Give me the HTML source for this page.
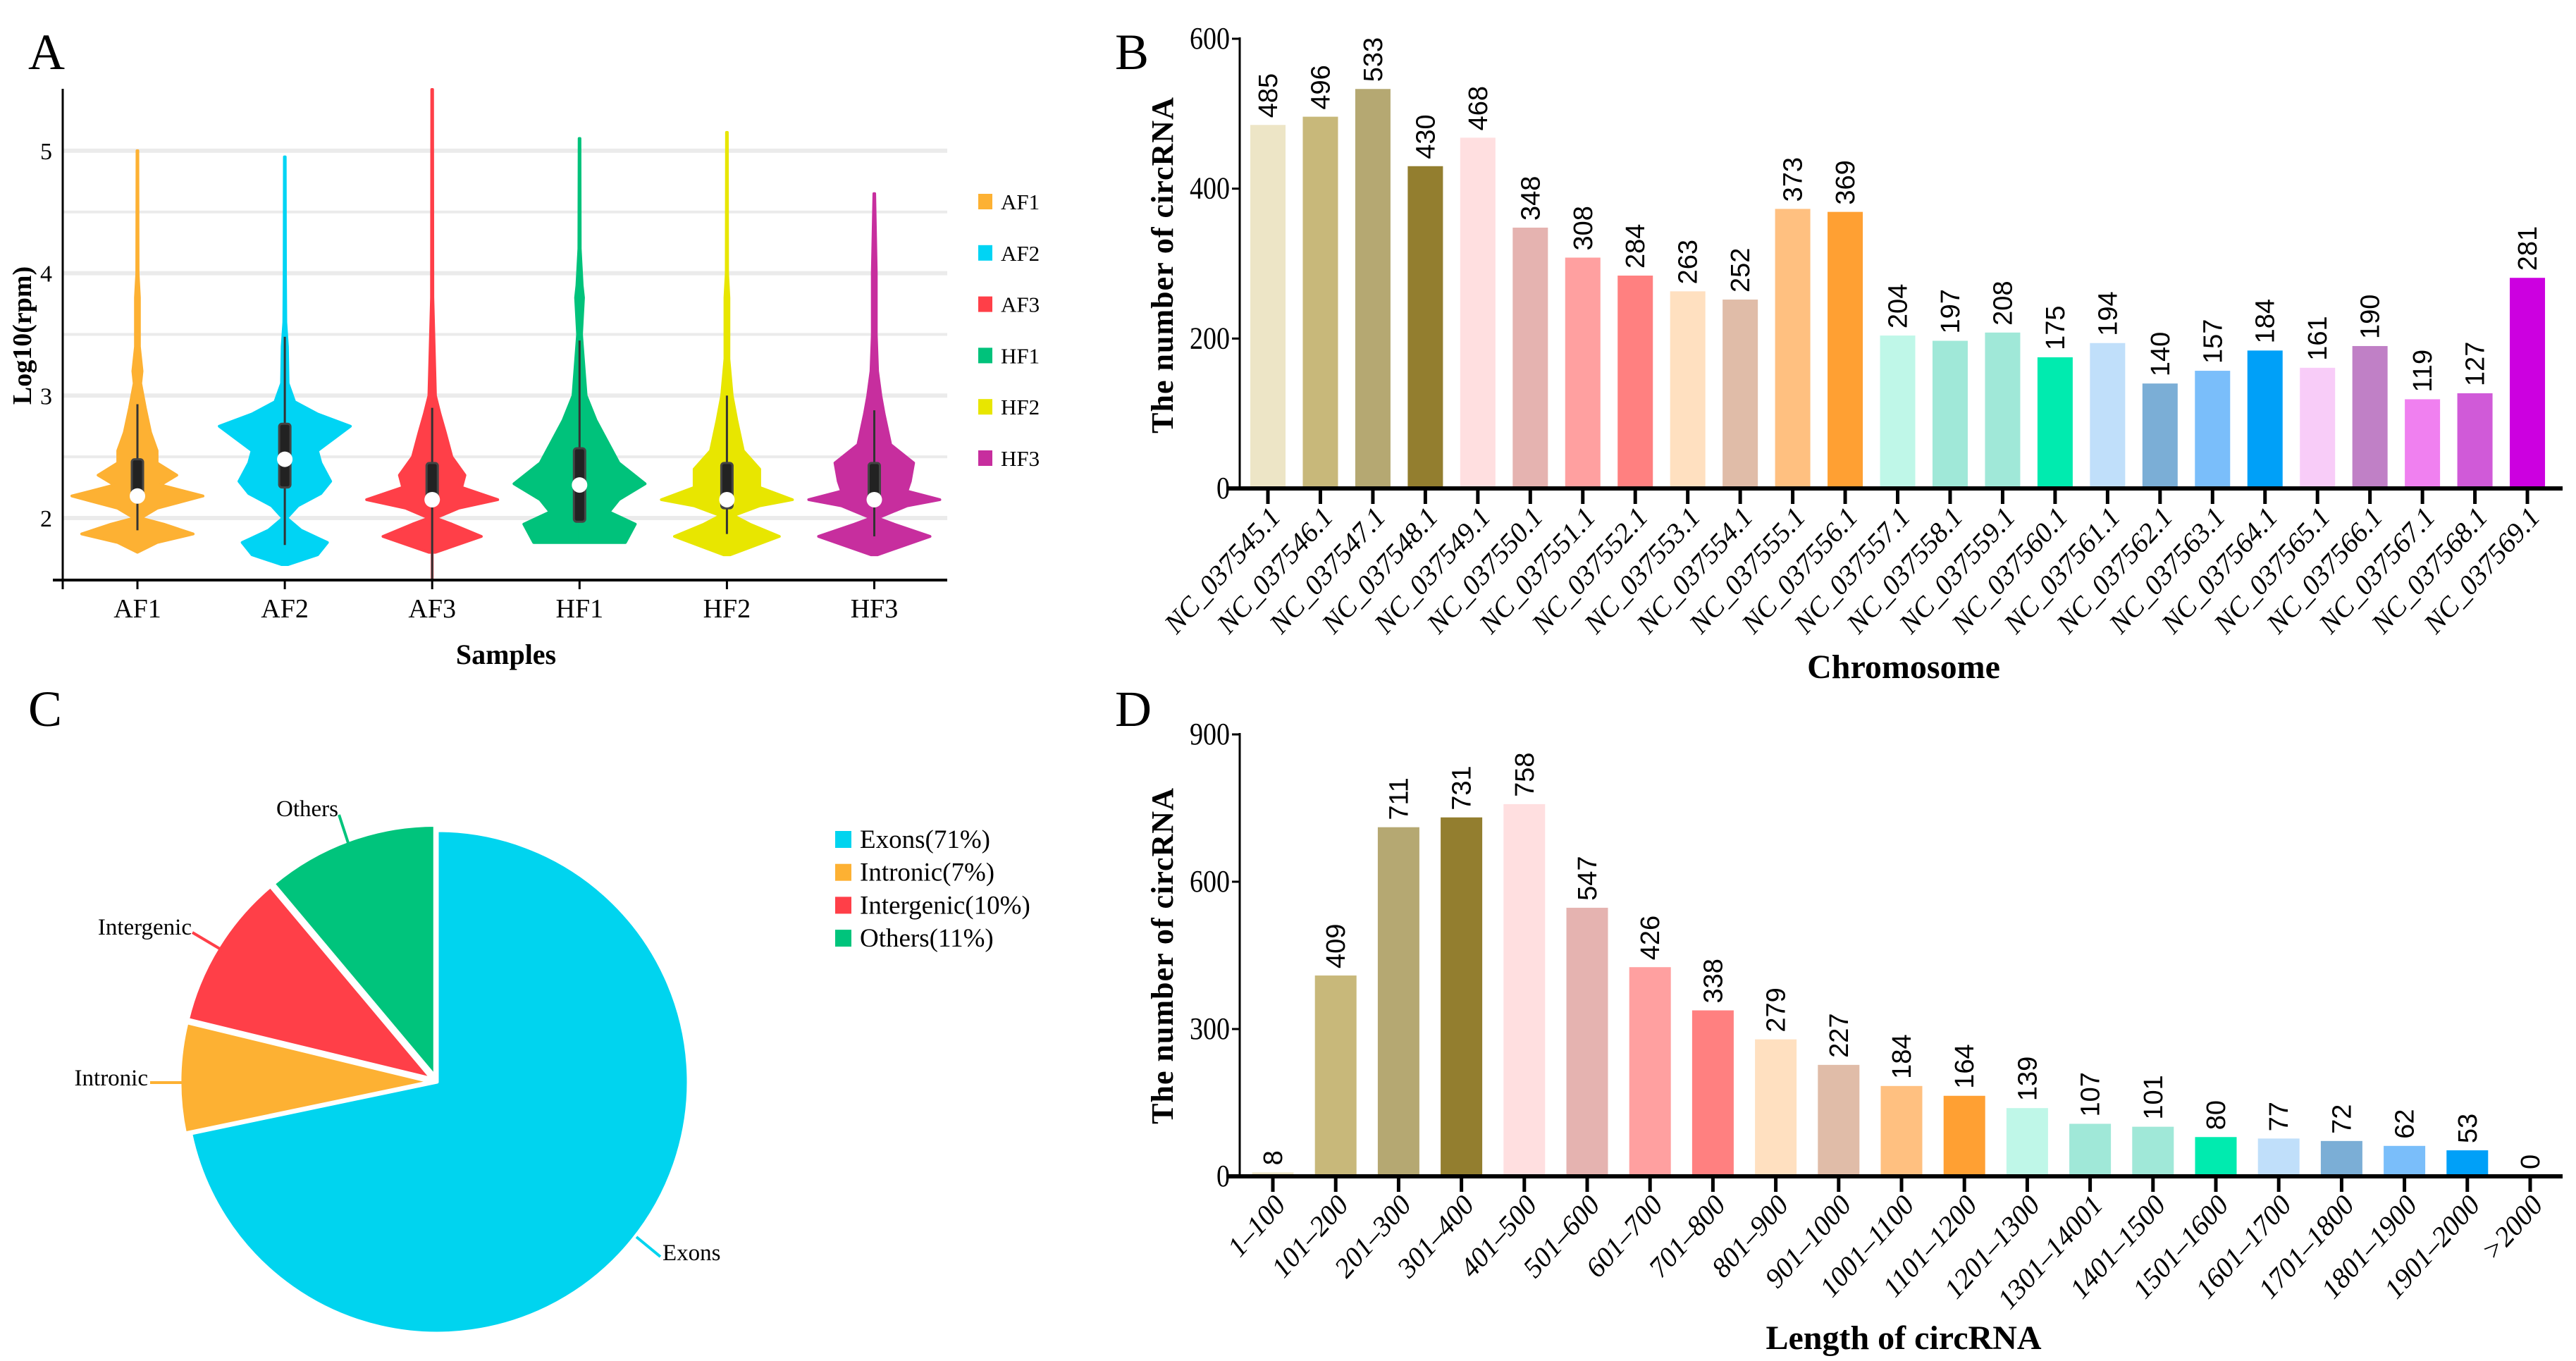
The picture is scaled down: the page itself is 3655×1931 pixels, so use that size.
<!DOCTYPE html>
<html><head><meta charset="utf-8">
<style>
html,body{margin:0;padding:0;background:#fff;}
svg{display:block;}
text{font-family:"Liberation Serif",serif;}
.sans{font-family:"Liberation Sans",sans-serif;}
</style></head>
<body>
<svg id="fig" width="3655" height="1931" viewBox="0 0 3655 1931" xmlns="http://www.w3.org/2000/svg">
<rect width="3655" height="1931" fill="#fff"/>
<text x="40" y="98" font-size="72">A</text>
<text x="1582" y="98" font-size="72">B</text>
<text x="40" y="1030" font-size="72">C</text>
<text x="1582" y="1030" font-size="72">D</text>
<g id="A"></g>
<g id="B"></g>
<g id="C"></g>
<g id="D"></g>
</svg>
<script>
// ---------- Panel A data ----------
const violinSamples = ["AF1","AF2","AF3","HF1","HF2","HF3"];
const violinColors = ["#FDB133","#00D4F4","#FF3F48","#00C27B","#E8E600","#C72E9E"];
const yTicksA = [2,3,4,5];
const profileAF1 = [[1.72,0],[1.8,0.3],[1.87,0.85],[1.95,0.4],[2.0,0.05],[2.08,0.3],[2.18,1.0],[2.27,0.35],[2.35,0.6],[2.45,0.3],[2.55,0.3],[2.7,0.2],[2.9,0.12],[3.1,0.05],[3.2,0.07],[3.4,0.03],[3.8,0.03],[4.0,0.01],[5.0,0.006]];
const profileAF2 = [[1.62,0.05],[1.7,0.5],[1.8,0.65],[1.9,0.25],[2.0,0.03],[2.1,0.2],[2.2,0.55],[2.3,0.7],[2.45,0.55],[2.55,0.5],[2.65,0.75],[2.75,1.0],[2.85,0.5],[2.95,0.15],[3.1,0.05],[3.4,0.04],[3.6,0.015],[4.0,0.01],[4.95,0.006]];
const profileAF3 = [[1.72,0.05],[1.85,0.75],[1.95,0.3],[2.0,0.05],[2.08,0.4],[2.15,1.0],[2.25,0.45],[2.35,0.5],[2.5,0.3],[2.7,0.2],[2.85,0.12],[3.0,0.05],[3.4,0.03],[3.8,0.01],[5.5,0.006]];
const profileHF1 = [[1.8,0.7],[1.95,0.85],[2.05,0.45],[2.15,0.6],[2.28,1.0],[2.45,0.6],[2.6,0.45],[2.8,0.25],[3.0,0.1],[3.5,0.03],[3.8,0.06],[3.9,0.04],[4.2,0.01],[5.1,0.006]];
const profileHF2 = [[1.7,0.05],[1.85,0.8],[1.95,0.35],[2.02,0.1],[2.1,0.5],[2.15,1.0],[2.25,0.5],[2.4,0.5],[2.55,0.25],[2.8,0.15],[3.0,0.08],[3.3,0.03],[3.8,0.03],[4.0,0.01],[5.15,0.006]];
const profileHF3 = [[1.7,0.05],[1.85,0.85],[1.95,0.3],[2.0,0.05],[2.1,0.5],[2.15,1.0],[2.22,0.5],[2.3,0.55],[2.45,0.6],[2.6,0.25],[2.85,0.15],[3.0,0.1],[3.2,0.05],[3.5,0.03],[4.0,0.03],[4.65,0.006]];
const boxQ1 = [2.18,2.25,2.15,1.97,2.08,2.15];
const boxQ3 = [2.48,2.77,2.45,2.57,2.45,2.45];
const boxMedian = [2.18,2.48,2.15,2.27,2.15,2.15];
const whiskerLow = [1.9,1.78,1.5,1.97,1.87,1.85];
const whiskerHigh = [2.93,3.48,2.9,3.45,3.0,2.88];

// ---------- Panel B data ----------
const chromCats = ["NC_037545.1","NC_037546.1","NC_037547.1","NC_037548.1","NC_037549.1","NC_037550.1","NC_037551.1","NC_037552.1","NC_037553.1","NC_037554.1","NC_037555.1","NC_037556.1","NC_037557.1","NC_037558.1","NC_037559.1","NC_037560.1","NC_037561.1","NC_037562.1","NC_037563.1","NC_037564.1","NC_037565.1","NC_037566.1","NC_037567.1","NC_037568.1","NC_037569.1"];
const chromValues = [485,496,533,430,468,348,308,284,263,252,373,369,204,197,208,175,194,140,157,184,161,190,119,127,281];
const yTicksB = [0,200,400,600];
const barColors = ["#EDE5C6","#C8B87A","#B5A872","#937E2F","#FFDFE0","#E5B3B0","#FFA0A0","#FF8080","#FFE0C0","#E0BCA8","#FFC080","#FFA033","#BFF7E8","#A0E8D8","#A0E8D8","#00EBAF","#C0DFFA","#7BAED6","#7ABEFA","#00A0F8","#F8CCF8","#C080C6","#F080F0","#D05AD8","#CC00E0"];

// ---------- Panel C data ----------
const pieLabels = ["Exons","Intronic","Intergenic","Others"];
const pieValues = [71,7,10,11];
const pieColors = ["#00D4EF","#FDB133","#FF3F48","#00C47C"];

// ---------- Panel D data ----------
const lenCats = ["1–100","101–200","201–300","301–400","401–500","501–600","601–700","701–800","801–900","901–1000","1001–1100","1101–1200","1201–1300","1301–14001","1401–1500","1501–1600","1601–1700","1701–1800","1801–1900","1901–2000",">2000"];
const lenValues = [8,409,711,731,758,547,426,338,279,227,184,164,139,107,101,80,77,72,62,53,0];
const yTicksD = [0,300,600,900];

const NS="http://www.w3.org/2000/svg";
function mk(tag,attrs,parent,txt){const e=document.createElementNS(NS,tag);for(const k in attrs)e.setAttribute(k,attrs[k]);if(txt!==undefined)e.textContent=txt;parent.appendChild(e);return e;}

// ===== Panel A =====
(function(){
  const g=document.getElementById('A');
  const yA=v=>735-(v-2)*173.7;
  const xA=i=>195+i*209.1;
  const maxHalf=93;
  const profiles=[profileAF1,profileAF2,profileAF3,profileHF1,profileHF2,profileHF3];
  for(let v=2;v<=5.001;v+=0.5){
    const l=mk('line',{x1:90,x2:1344,y1:yA(v),y2:yA(v),stroke:'#ebebeb','stroke-width':v%1===0?6:4},g);
    
    
  }
  violinSamples.forEach((s,i)=>{
    const p=profiles[i],cx=xA(i);
    let d='';
    p.forEach((pt,j)=>{d+=(j?'L':'M')+(cx+pt[1]*maxHalf)+','+yA(pt[0]);});
    for(let j=p.length-1;j>=0;j--){d+='L'+(cx-p[j][1]*maxHalf)+','+yA(p[j][0]);}
    d+='Z';
    const v=mk('path',{d:d,fill:violinColors[i],stroke:violinColors[i],'stroke-width':4,'stroke-linejoin':'round'},g);
    
    
    const top=p[p.length-1][0];
    mk('line',{x1:cx,x2:cx,y1:yA(top),y2:yA(Math.min(p[0][0],whiskerLow[i])),stroke:violinColors[i],'stroke-width':4},g);
    const w=mk('line',{x1:cx,x2:cx,y1:yA(whiskerHigh[i]),y2:yA(whiskerLow[i]),stroke:'#333','stroke-width':3},g);
    
    
    const b=mk('rect',{x:cx-8,y:yA(boxQ3[i]),width:16,height:yA(boxQ1[i])-yA(boxQ3[i]),fill:'#222',stroke:'#444','stroke-width':3,rx:4},g);
    
    
    const m=mk('circle',{cx:cx,cy:yA(boxMedian[i]),r:11,fill:'#fff'},g);
    
    
    const t=mk('text',{x:cx,y:876,'font-size':38,'text-anchor':'middle'},g,s);
    
    
    mk('line',{x1:cx,x2:cx,y1:823,y2:836,stroke:'#000','stroke-width':3},g);
    const ly=286+i*72.8;
    const ls=mk('rect',{x:1388,y:ly-11,width:20,height:22,fill:violinColors[i]},g);
    
    
    const lt=mk('text',{x:1420,y:ly+11,'font-size':31},g,s);
    
    
  });
  mk('line',{x1:89,x2:89,y1:126,y2:836,stroke:'#000','stroke-width':3},g);
  mk('line',{x1:75,x2:1344,y1:823,y2:823,stroke:'#000','stroke-width':4},g);
  yTicksA.forEach(v=>{
    const t=mk('text',{x:74,y:yA(v)+12,'font-size':34,'text-anchor':'end'},g,String(v));
    
    
  });
  const xt=mk('text',{x:718,y:942,'font-size':40,'font-weight':'bold','text-anchor':'middle'},g,'Samples');
  
  
  const yt=mk('text',{x:0,y:0,'font-size':38,'font-weight':'bold','text-anchor':'middle',transform:'translate(44,476) rotate(-90)'},g,'Log10(rpm)');
  
  
})();

// ===== Bar chart helper =====
function barChart(gid,cats,vals,ticks,y0,yTop,maxV,x0,step,bw,axisRight,xTitle,xTitleY,yTitleCy,prefix){
  const g=document.getElementById(gid);
  const yS=v=>y0-(v/maxV)*(y0-yTop);
  const xS=i=>x0+i*step;
  cats.forEach((c,i)=>{
    const v=vals[i];
    if(v>0){
      const r=mk('rect',{x:xS(i)-bw/2,y:yS(v),width:bw,height:y0-yS(v),fill:barColors[i]},g);
      
      
    }
    const tx=xS(i)+13, ty=yS(v)-10;
    const t=mk('text',{x:0,y:0,'font-size':38,class:'sans',transform:'translate('+tx+','+ty+') rotate(-90)'},g,String(v));
    
    
    mk('line',{x1:xS(i),x2:xS(i),y1:y0,y2:y0+22,stroke:'#000','stroke-width':5},g);
    const lx=xS(i)+20, ly=y0+42;
    const cl=mk('text',{x:0,y:0,'font-size':40,'font-style':'italic','text-anchor':'end',transform:'translate('+lx+','+ly+') rotate(-48)'},g,c);
    
    
  });
  mk('line',{x1:1759,x2:1759,y1:yTop-2,y2:y0,stroke:'#000','stroke-width':3},g);
  mk('line',{x1:1740,x2:axisRight,y1:y0,y2:y0,stroke:'#000','stroke-width':6},g);
  ticks.forEach(v=>{
    mk('line',{x1:1748,x2:1759,y1:yS(v),y2:yS(v),stroke:'#000','stroke-width':3},g);
    const t=mk('text',{x:1745,y:yS(v)+14,'font-size':44,'text-anchor':'end',textLength:String(v).length*19,lengthAdjust:'spacingAndGlyphs'},g,String(v));
    
    
  });
  const xt=mk('text',{x:2701,y:xTitleY,'font-size':48,'font-weight':'bold','text-anchor':'middle'},g,xTitle);
  
  
  const yt=mk('text',{x:0,y:0,'font-size':44,'font-weight':'bold','text-anchor':'middle','letter-spacing':1,transform:'translate(1664,'+yTitleCy+') rotate(-90)'},g,'The number of circRNA');
  
  
}
barChart('B',chromCats,chromValues,yTicksB,693,55,600,1799,74.46,50,3636,'Chromosome',962,376,'chrom');
barChart('D',lenCats,lenValues,yTicksD,1669,1042,900,1806,89.2,59,3636,'Length of circRNA',1914,1356,'length');

// ===== Panel C =====
(function(){
  const g=document.getElementById('C');
  const cx=620,cy=1535,R=357;
  const total=pieValues.reduce((a,b)=>a+b,0);
  let a0=0;
  pieValues.forEach((v,i)=>{
    const a1=a0+v/total*Math.PI*2;
    const mid=(a0+a1)/2, off=i===0?0:8;
    const ox=cx+Math.sin(mid)*off, oy=cy-Math.cos(mid)*off;
    const x0=ox+R*Math.sin(a0), y0=oy-R*Math.cos(a0);
    const x1=ox+R*Math.sin(a1), y1=oy-R*Math.cos(a1);
    const large=(a1-a0)>Math.PI?1:0;
    const p=mk('path',{d:'M'+ox+','+oy+'L'+x0+','+y0+'A'+R+','+R+' 0 '+large+' 1 '+x1+','+y1+'Z',fill:pieColors[i],stroke:'#fff','stroke-width':5,'stroke-linejoin':'round'},g);
    
    
    a0=a1;
  });
  const leaders=[[903,1755,937,1783],[213,1536,263,1536],[273,1323,315,1348],[481,1156,496,1202]];
  const labelPos=[[940,1788,'start'],[210,1540,'end'],[272,1326,'end'],[480,1158,'end']];
  pieLabels.forEach((l,i)=>{
    const L=leaders[i];
    mk('line',{x1:L[0],y1:L[1],x2:L[2],y2:L[3],stroke:pieColors[i],'stroke-width':4},g);
    const t=mk('text',{x:labelPos[i][0],y:labelPos[i][1],'font-size':33,'text-anchor':labelPos[i][2]},g,l);
    
    
    const ly=1191+i*46.7;
    const s=mk('rect',{x:1185,y:ly-12,width:23,height:24,fill:pieColors[i]},g);
    
    
    const lt=mk('text',{x:1220,y:ly+12,'font-size':37},g,l+'('+pieValues[i]+'%)');
    
    
  });
})();
</script>
</body></html>
